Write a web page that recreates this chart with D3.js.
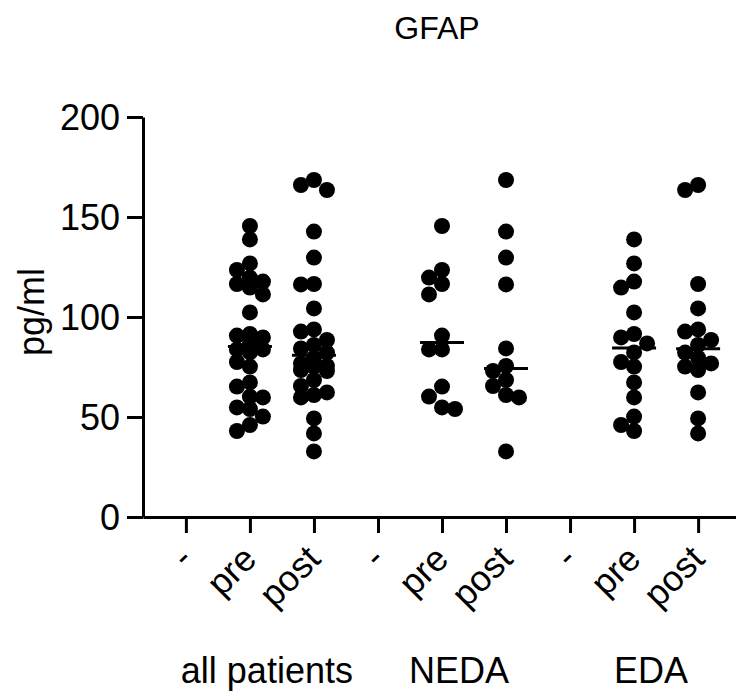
<!DOCTYPE html>
<html lang="en">
<head>
	<meta charset="utf-8">
	<script src="https://d3js.org/d3.v7.min.js"></script>
	<style type="text/css">
		body { margin: 0; background: #fff; }
		svg text { font-family: "Liberation Sans", Arial, sans-serif; fill: #000; }
	</style>
</head>
<body>
	<script type="text/javascript">
	var width = 736;
	var height = 691;

	var title = "GFAP";
	var yLabel = "pg/ml";
	var groups = ["all patients", "NEDA", "EDA"];
	var timepoints = ["-", "pre", "post"];
	var yTicks = [0, 50, 100, 150, 200];

	// values (pg/ml)
	var allPre = [145.5, 138.8, 126.8, 123.5, 119.7, 117.7, 116.5, 114.7, 111.3, 102.3, 91.5, 90.7, 89.8, 86.8,
		83.8, 83.8, 82.3, 77.5, 75.2, 67.3, 65.2, 60.2, 59.8, 54.8, 54, 50.2, 46, 43];
	var allPost = [168.5, 166, 163.5, 142.7, 129.7, 116.5, 116.3, 104.3, 93.8, 92.7, 88.5, 86, 84.3, 82.2,
		79.5, 76.8, 75.5, 75.2, 73.5, 73, 68.5, 65.5, 62.3, 61, 59.8, 49.3, 41.8, 32.8];
	var nedaPre = [145.5, 123.5, 119.7, 116.5, 111.3, 90.7, 83.8, 83.8, 65.2, 60.2, 54.8, 54];
	var nedaPost = [168.5, 142.7, 129.7, 116.3, 84.3, 75.5, 73, 68.5, 65.5, 61, 59.8, 32.8];
	var edaPre = [138.8, 126.8, 117.7, 114.7, 102.3, 91.5, 89.8, 86.8, 82.3, 77.5, 75.2, 67.3, 59.8, 50.2, 46, 43];
	var edaPost = [166, 163.5, 116.5, 104.3, 93.8, 92.7, 88.5, 86, 82.2, 79.5, 76.8, 75.2, 73.5, 62.3, 49.3, 41.8];

	var series = [
		{group: "all patients", time: "pre", values: allPre},
		{group: "all patients", time: "post", values: allPost},
		{group: "NEDA", time: "pre", values: nedaPre},
		{group: "NEDA", time: "post", values: nedaPost},
		{group: "EDA", time: "pre", values: edaPre},
		{group: "EDA", time: "post", values: edaPost}
	];

	var cols = [];
	groups.forEach(function(g) { timepoints.forEach(function(t) { cols.push(g + "|" + t); }); });

	var svg = d3.select("body").append("svg")
		.attr("width", width)
		.attr("height", height);

	var x = d3.scalePoint().domain(cols).range([143, 741]).padding(0.67);
	var y = d3.scaleLinear().domain([0, 200]).range([517, 117]);

	// y axis
	var yAxis = svg.append("g")
		.attr("transform", "translate(143,0)")
		.call(d3.axisLeft(y).tickValues(yTicks).tickSize(16).tickSizeOuter(0).tickPadding(7));
	yAxis.selectAll("path, line").attr("stroke", "#000").attr("stroke-width", 3);
	yAxis.selectAll("text").style("font-size", "36px").attr("dy", "0.36em");

	// x axis
	var xAxis = svg.append("g")
		.attr("transform", "translate(0,517)")
		.call(d3.axisBottom(x).tickSize(16).tickSizeOuter(0).tickFormat(function(d) { return d.split("|")[1]; }));
	xAxis.selectAll("path, line").attr("stroke", "#000").attr("stroke-width", 3);
	xAxis.selectAll("text")
		.style("font-size", "36px")
		.attr("text-anchor", "end")
		.attr("y", 0).attr("dy", 0)
		.attr("transform", "translate(8,44) rotate(-45)");

	// group labels
	svg.selectAll(".group-label")
		.data(groups)
		.enter().append("text")
		.attr("class", "group-label")
		.attr("x", function(d) { return x(d + "|-") + 81; })
		.attr("y", 683)
		.attr("text-anchor", "middle")
		.style("font-size", "36px")
		.text(function(d) { return d; });

	// title
	svg.append("text")
		.attr("x", 437).attr("y", 39)
		.attr("text-anchor", "middle")
		.style("font-size", "32px")
		.text(title);

	// y label
	svg.append("text")
		.attr("transform", "translate(44,312) rotate(-90)")
		.attr("text-anchor", "middle")
		.style("font-size", "36px")
		.text(yLabel);

	// simple beeswarm: dots go into lanes left/right of the column centre
	function swarm(values, cx) {
		var lane = 13, minDist = 12.5;
		var placed = [];
		values.slice().sort(function(a, b) { return b - a; }).forEach(function(v) {
			var py = y(v), best = null, bestD = -1;
			[0, -1, 1].some(function(k) {
				var px = cx + k * lane;
				var d = d3.min(placed, function(p) { return Math.hypot(p.x - px, p.y - py); });
				if (d === undefined) d = Infinity;
				if (d >= minDist) { best = px; return true; }
				if (d > bestD) { bestD = d; best = px; }
				return false;
			});
			placed.push({x: best, y: py, v: v});
		});
		return placed;
	}

	series.forEach(function(s) {
		var cx = x(s.group + "|" + s.time);
		var pts = swarm(s.values, cx);
		svg.append("g").selectAll("circle")
			.data(pts)
			.enter().append("circle")
			.attr("cx", function(d) { return d.x; })
			.attr("cy", function(d) { return d.y; })
			.attr("r", 8)
			.attr("fill", "#000");

		var med = d3.median(s.values);
		svg.append("line")
			.attr("x1", cx - 22).attr("x2", cx + 22)
			.attr("y1", y(med)).attr("y2", y(med))
			.attr("stroke", "#000")
			.attr("stroke-width", 3);
	});
	</script>
</body>
</html>
